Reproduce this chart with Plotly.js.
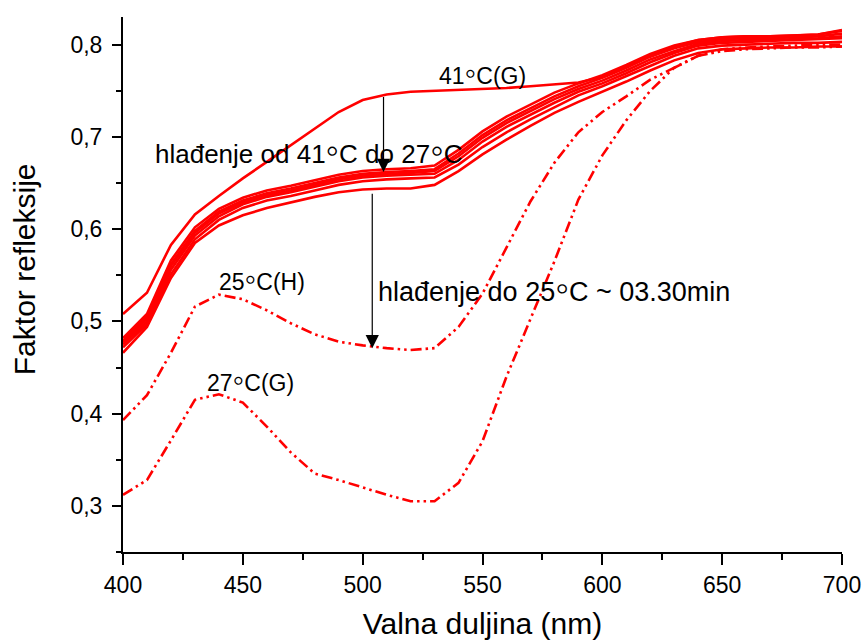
<!DOCTYPE html>
<html>
<head>
<meta charset="utf-8">
<script src="https://cdn.plot.ly/plotly-3.0.1.min.js"></script>
<style>html,body{margin:0;padding:0;background:#fff;}#chart{width:862px;height:640px;}</style>
</head>
<body>
<div id="chart"></div>
<script>
// Wavelengths (nm)
const wavelength = [400,410,420,430,440,450,460,470,480,490,500,510,520,530,540,550,560,570,580,590,600,610,620,630,640,650,660,670,680,690,700];

// 41°C (G) - starting curve
const r41G = [0.508,0.531,0.583,0.616,0.636,0.655,0.673,0.691,0.709,0.727,0.740,0.746,0.749,0.750,0.751,0.752,0.753,0.755,0.757,0.759,0.765,0.776,0.788,0.798,0.805,0.808,0.809,0.809,0.810,0.811,0.815];

// Cooling curves from 41°C to 27°C (bundle)
const coolA = [0.482,0.508,0.566,0.602,0.622,0.634,0.642,0.647,0.653,0.659,0.663,0.665,0.666,0.669,0.686,0.706,0.722,0.735,0.748,0.758,0.767,0.778,0.790,0.799,0.805,0.808,0.809,0.809,0.810,0.811,0.816];
const coolB = [0.479,0.505,0.562,0.598,0.619,0.631,0.639,0.644,0.650,0.656,0.660,0.662,0.663,0.665,0.682,0.702,0.718,0.731,0.744,0.755,0.764,0.775,0.787,0.796,0.803,0.806,0.807,0.807,0.808,0.809,0.812];
const coolC = [0.477,0.503,0.560,0.596,0.617,0.629,0.637,0.642,0.648,0.654,0.658,0.660,0.661,0.663,0.679,0.699,0.715,0.728,0.741,0.752,0.761,0.772,0.784,0.793,0.801,0.804,0.805,0.805,0.806,0.807,0.809];
const coolD = [0.475,0.500,0.556,0.593,0.614,0.627,0.635,0.640,0.646,0.652,0.656,0.658,0.659,0.660,0.675,0.695,0.711,0.724,0.737,0.749,0.758,0.769,0.781,0.791,0.799,0.802,0.803,0.804,0.805,0.806,0.807];
const coolE = [0.472,0.497,0.551,0.589,0.610,0.623,0.631,0.636,0.642,0.648,0.652,0.654,0.655,0.656,0.670,0.689,0.705,0.719,0.732,0.745,0.755,0.766,0.777,0.788,0.796,0.799,0.800,0.801,0.802,0.802,0.803];
const coolF = [0.466,0.494,0.547,0.585,0.604,0.615,0.623,0.629,0.635,0.640,0.643,0.644,0.644,0.648,0.663,0.681,0.697,0.712,0.726,0.738,0.749,0.760,0.772,0.783,0.791,0.795,0.796,0.797,0.797,0.798,0.798];

// 25°C (H) and 27°C (G)
const r25H = [0.393,0.420,0.466,0.516,0.529,0.524,0.512,0.498,0.486,0.478,0.474,0.471,0.469,0.471,0.494,0.530,0.580,0.630,0.672,0.705,0.727,0.744,0.762,0.775,0.788,0.795,0.797,0.798,0.799,0.800,0.800];
const r27G = [0.312,0.328,0.371,0.415,0.421,0.412,0.386,0.358,0.335,0.328,0.320,0.312,0.305,0.305,0.325,0.370,0.440,0.502,0.565,0.632,0.680,0.718,0.750,0.775,0.788,0.793,0.795,0.796,0.797,0.797,0.798];

// Axis ticks
const xTickVals = [400,450,500,550,600,650,700];
const xTickText = ['400','450','500','550','600','650','700'];
const yTickVals = [0.3,0.4,0.5,0.6,0.7,0.8];
const yTickText = ['0,3','0,4','0,5','0,6','0,7','0,8'];

const red = '#ff0000';
const solidSeries = [r41G, coolA, coolB, coolC, coolD, coolE, coolF];
const dashedSeries = [r25H, r27G];

const traces = [];
solidSeries.forEach(s => traces.push({x: wavelength, y: s, mode: 'lines', line: {color: red, width: 2.6}, hoverinfo: 'skip'}));
dashedSeries.forEach(s => traces.push({x: wavelength, y: s, mode: 'lines', line: {color: red, width: 2.6, dash: '11px,4px,2.5px,4px,2.5px,4px'}, hoverinfo: 'skip'}));

const FONT = 'Liberation Sans, Arial, Helvetica, sans-serif';
function deg(size) { return '<span style="font-size:' + Math.round(size * 1.45) + 'px">\u25E6</span>'; }

const layout = {
  width: 862, height: 640,
  margin: {l: 123, r: 20, t: 17, b: 88},
  paper_bgcolor: '#fff', plot_bgcolor: '#fff',
  showlegend: false,
  font: {family: FONT, color: '#000', size: 23},
  xaxis: {
    range: [400, 700], showgrid: false, zeroline: false,
    showline: true, linecolor: '#000', linewidth: 2,
    ticks: 'outside', ticklen: 11, tickwidth: 2, tickcolor: '#000',
    tickvals: xTickVals, ticktext: xTickText,
    tickfont: {size: 23, family: FONT},
    minor: {dtick: 25, tick0: 400, ticks: 'outside', ticklen: 6, tickwidth: 2, tickcolor: '#000'},
    title: {text: 'Valna duljina (nm)', font: {size: 30, family: FONT}, standoff: 17}
  },
  yaxis: {
    range: [0.25, 0.83], showgrid: false, zeroline: false,
    showline: true, linecolor: '#000', linewidth: 2,
    ticks: 'outside', ticklen: 9, tickwidth: 2, tickcolor: '#000',
    tickvals: yTickVals, ticktext: yTickText, ticklabelstandoff: 5,
    tickfont: {size: 23, family: FONT},
    minor: {dtick: 0.05, tick0: 0.25, ticks: 'outside', ticklen: 5, tickwidth: 2, tickcolor: '#000'}
  },
  annotations: [
    {x: -0.136, y: 0.529, xref: 'paper', yref: 'paper', text: 'Faktor refleksije', textangle: -90, showarrow: false, xanchor: 'center', yanchor: 'middle', font: {size: 30, family: FONT}},
    {x: 550, y: 0.770, xref: 'x', yref: 'y', text: '41' + deg(23) + 'C(G)', showarrow: false, xanchor: 'center', yanchor: 'middle', font: {size: 23, family: FONT}},
    {x: 412.5, y: 0.686, xref: 'x', yref: 'y', text: 'hlađenje od 41' + deg(26) + 'C do 27' + deg(26) + 'C', showarrow: false, xanchor: 'left', yanchor: 'middle', font: {size: 26, family: FONT}},
    {x: 505.5, y: 0.537, xref: 'x', yref: 'y', text: 'hlađenje do 25' + deg(27) + 'C ~ 03.30min', showarrow: false, xanchor: 'left', yanchor: 'middle', font: {size: 27, family: FONT}},
    {x: 458, y: 0.546, xref: 'x', yref: 'y', text: '25' + deg(23) + 'C(H)', showarrow: false, xanchor: 'center', yanchor: 'middle', font: {size: 23, family: FONT}},
    {x: 453, y: 0.437, xref: 'x', yref: 'y', text: '27' + deg(23) + 'C(G)', showarrow: false, xanchor: 'center', yanchor: 'middle', font: {size: 23, family: FONT}},
    {x: 508.7, y: 0.662, ax: 508.7, ay: 0.745, xref: 'x', yref: 'y', axref: 'x', ayref: 'y', text: '', showarrow: true, arrowhead: 2, arrowsize: 2.2, arrowwidth: 1.2, arrowcolor: '#000'},
    {x: 504, y: 0.471, ax: 504, ay: 0.640, xref: 'x', yref: 'y', axref: 'x', ayref: 'y', text: '', showarrow: true, arrowhead: 2, arrowsize: 2.2, arrowwidth: 1.2, arrowcolor: '#000'}
  ]
};

Plotly.newPlot('chart', traces, layout, {staticPlot: true, displayModeBar: false});
</script>
</body>
</html>
